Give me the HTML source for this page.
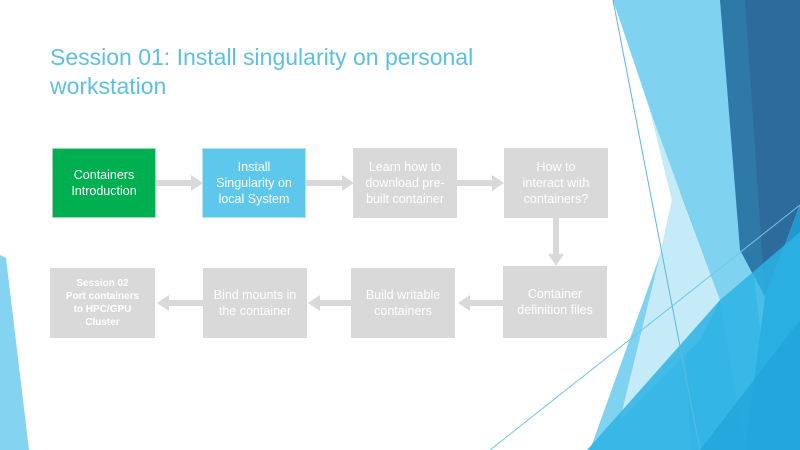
<!DOCTYPE html>
<html><head><meta charset="utf-8"><style>
body{margin:0;width:800px;height:450px;overflow:hidden;background:#fff;font-family:"Liberation Sans",sans-serif;position:relative}
.t{position:absolute;left:50px;top:43px;color:#5ec0e0;font-size:23px;line-height:29px}
.b{position:absolute;display:flex;align-items:center;justify-content:center;text-align:center;color:#fff;font-size:12.5px;line-height:16px;background:#d9d9d9;width:104px;height:70px}
</style></head><body>
<svg width="800" height="450" style="position:absolute;left:0;top:0">
<polygon points="0,255 6,258 29,450 0,450" fill="#84d3f0"/>
<polygon points="613,0 720,0 775,450 587,450" fill="#7fd3f0"/>
<polygon points="680,190 720,300 745,450 690,450" fill="#62c8ed"/>
<polygon points="613,0 650,110 672,200 660,255 590,450 560,450 560,0" fill="#fff"/>
<polygon points="650,110 683,200 720,300 700,340 650,390 620,420 660,255 672,200" fill="#c6ebf8"/>
<polygon points="720,0 800,0 800,205 765,297" fill="#2c6b9c"/>
<polygon points="720,0 745,0 765,297 740,250" fill="#2f79a8"/>
<polygon points="765,297 800,205 800,450 745,450" fill="#1f98cd"/>
<polygon points="587,450 720,300 800,232 800,450" fill="#2cb3e4" opacity="0.85"/>
<polygon points="700,450 800,320 800,450" fill="#1fa3d8" opacity="0.7"/>
<line x1="490" y1="450" x2="800" y2="205" stroke="#6fc6e6" stroke-width="1"/>
<line x1="613" y1="0" x2="700" y2="450" stroke="#5ab9de" stroke-width="1"/>
<g fill="#d9d9d9">
<rect x="155" y="180" width="38" height="6"/><polygon points="191,175 203,183 191,191"/>
<rect x="306" y="180" width="38" height="6"/><polygon points="342,175 354,183 342,191"/>
<rect x="456" y="180" width="38" height="6"/><polygon points="492,175 504,183 492,191"/>
<rect x="553" y="218" width="6" height="38"/><polygon points="548,254 564,254 556,266"/>
<rect x="468" y="300" width="35" height="6"/><polygon points="470,295 458,303 470,311"/>
<rect x="320" y="300" width="31" height="6"/><polygon points="320,295 308,303 320,311"/>
<rect x="167" y="300" width="36" height="6"/><polygon points="169,295 157,303 169,311"/>
</g>
</svg>
<div class="t">Session 01: Install singularity on personal<br>workstation</div>
<div class="b" style="left:52px;top:148px;background:#00b050;border:1px solid #9fd9b0;width:102px;height:68px">Containers<br>Introduction</div>
<div class="b" style="left:202px;top:148px;background:#5dc8ec;border:1px solid #b5e3f3;width:102px;height:68px">Install<br>Singularity on<br>local System</div>
<div class="b" style="left:353px;top:148px">Learn how to<br>download pre-<br>built container</div>
<div class="b" style="left:504px;top:148px">How to<br>interact with<br>containers?</div>
<div class="b" style="left:503px;top:266px;height:72px">Container<br>definition files</div>
<div class="b" style="left:351px;top:268px">Build writable<br>containers</div>
<div class="b" style="left:203px;top:268px">Bind mounts in<br>the container</div>
<div class="b" style="left:50px;top:268px;width:105px;font-size:10px;font-weight:bold;line-height:13px">Session 02<br>Port containers<br>to HPC/GPU<br>Cluster</div>
</body></html>
